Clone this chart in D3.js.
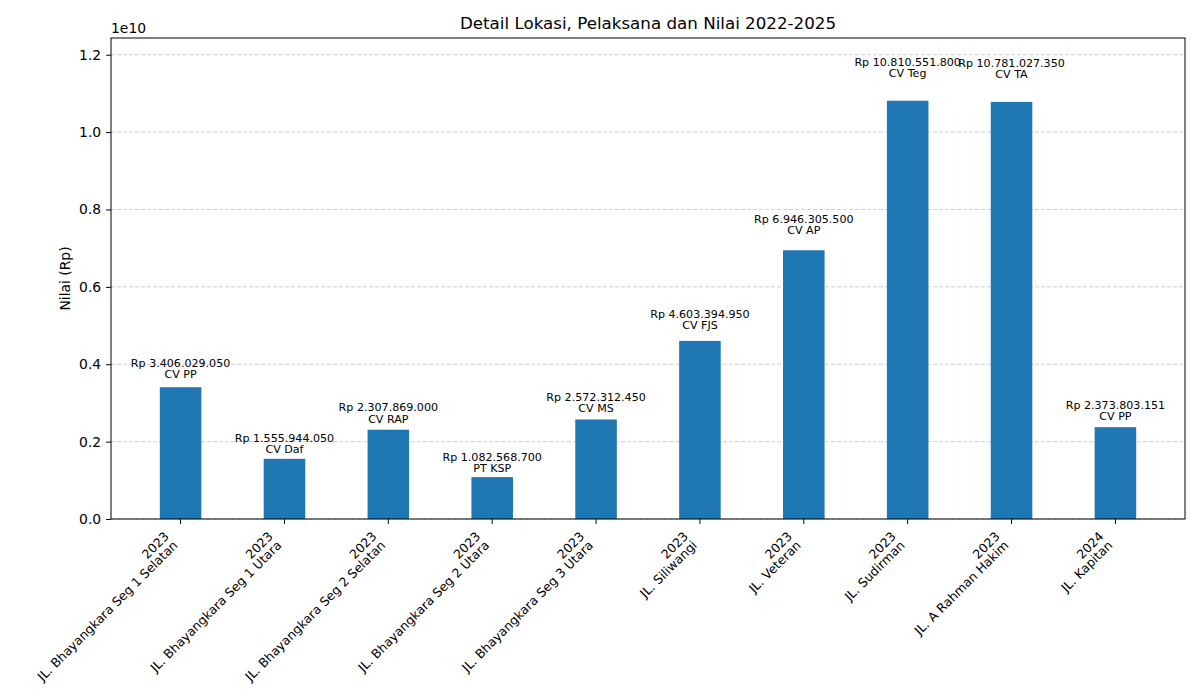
<!DOCTYPE html>
<html>
<head>
<meta charset="utf-8">
<script src="https://cdn.jsdelivr.net/npm/d3@7"></script>
<style>
  html, body { margin: 0; padding: 0; background: #fff; }
  svg { font-family: "DejaVu Sans", sans-serif; display: block; }
  .grid line { stroke: #b0b0b0; stroke-opacity: 0.6; stroke-dasharray: 4 2; }
</style>
</head>
<body>
<div id="chart"></div>
<script>
// Project values per location (Rp).
const years = ["2023", "2023", "2023", "2023", "2023", "2023", "2023", "2023", "2023", "2024"];
const locations = [
  "JL. Bhayangkara Seg 1 Selatan", "JL. Bhayangkara Seg 1 Utara", "JL. Bhayangkara Seg 2 Selatan",
  "JL. Bhayangkara Seg 2 Utara", "JL. Bhayangkara Seg 3 Utara", "JL. Siliwangi", "JL. Veteran",
  "JL. Sudirman", "JL. A Rahman Hakim", "JL. Kapitan"
];
const contractors = ["CV PP", "CV Daf", "CV RAP", "PT KSP", "CV MS", "CV FJS", "CV AP", "CV Teg", "CV TA", "CV PP"];
const values = [3406029050, 1555944050, 2307869000, 1082568700, 2572312450, 4603394950, 6946305500, 10810551800, 10781027350, 2373803151];
const yTicks = [0, 0.2e10, 0.4e10, 0.6e10, 0.8e10, 1.0e10, 1.2e10];

const W = 1200, H = 700;
const pL = 111, pR = 1185, pT = 38, pB = 519;
const barW = 0.4;
const n = values.length;

const rp = (v) => "Rp " + String(v).replace(/\B(?=(\d{3})+(?!\d))/g, ".");

// matplotlib-like 5% margins around the bar extent
const x0 = -barW / 2, x1 = n - 1 + barW / 2, m = (x1 - x0) * 0.05;
const x = d3.scaleLinear([x0 - m, x1 + m], [pL, pR]);
const y = d3.scaleLinear([0, d3.max(values) * 1.15], [pB, pT]);

const svg = d3.select("#chart").append("svg")
  .attr("width", W).attr("height", H).attr("viewBox", `0 0 ${W} ${H}`);

// Grid (behind bars)
svg.append("g").attr("class", "grid")
  .selectAll("line").data(yTicks).join("line")
  .attr("x1", pL).attr("x2", pR)
  .attr("y1", (d) => y(d)).attr("y2", (d) => y(d));

// Bars
svg.append("g").selectAll("rect").data(values).join("rect")
  .attr("x", (_, i) => x(i - barW / 2))
  .attr("width", x(barW) - x(0))
  .attr("y", (d) => y(d))
  .attr("height", (d) => pB - y(d))
  .attr("fill", "#1f77b4");

// Value labels: bottom of text at value * 1.05
const ann = svg.append("g").attr("font-size", 11.1).attr("text-anchor", "middle").attr("fill", "#000");
values.forEach((v, i) => {
  const t = ann.append("text").attr("x", x(i)).attr("y", y(v * 1.05));
  t.append("tspan").attr("x", x(i)).attr("dy", "-1.24em").text(rp(v));
  t.append("tspan").attr("x", x(i)).attr("dy", "1.0em").text(contractors[i]);
});

// Y axis
svg.append("g").attr("transform", `translate(${pL},0)`)
  .call(d3.axisLeft(y).tickValues(yTicks).tickSize(4.9).tickPadding(4.9)
    .tickFormat((d) => (d / 1e10).toFixed(1)))
  .call((g) => g.select(".domain").remove())
  .call((g) => g.selectAll("text").attr("font-size", 13.9).attr("font-family", "DejaVu Sans").attr("fill", "#000"))
  .call((g) => g.selectAll("line").attr("stroke", "#000"));

// X ticks
svg.append("g").selectAll("line").data(d3.range(n)).join("line")
  .attr("x1", (i) => x(i)).attr("x2", (i) => x(i))
  .attr("y1", pB).attr("y2", pB + 4.9).attr("stroke", "#000");

// Rotated two-line tick labels, right/top aligned like matplotlib
const xl = svg.append("g").attr("font-size", 12.5).attr("fill", "#000");
const a = -Math.PI / 4;
d3.range(n).forEach((i) => {
  const t = xl.append("text").attr("text-anchor", "end");
  t.append("tspan").attr("x", 0).attr("dy", 0).text(years[i]);
  t.append("tspan").attr("x", 0).attr("dy", "1.0em").text(locations[i]);
  const b = t.node().getBBox();
  const corners = [[b.x, b.y], [b.x + b.width, b.y], [b.x, b.y + b.height], [b.x + b.width, b.y + b.height]]
    .map(([px, py]) => [px * Math.cos(a) - py * Math.sin(a), px * Math.sin(a) + py * Math.cos(a)]);
  const maxX = d3.max(corners, (c) => c[0]);
  const minY = d3.min(corners, (c) => c[1]);
  const tx = x(i) - maxX, ty = pB + 9.7 - minY;
  t.attr("transform", `translate(${tx},${ty}) rotate(-45)`);
});

// Frame
svg.append("rect").attr("x", pL).attr("y", pT)
  .attr("width", pR - pL).attr("height", pB - pT)
  .attr("fill", "none").attr("stroke", "#000").attr("stroke-width", 1);

// Offset text, title, y label
svg.append("text").attr("x", pL).attr("y", 33).attr("font-size", 13.9).text("1e10");
svg.append("text").attr("x", (pL + pR) / 2).attr("y", 29).attr("text-anchor", "middle")
  .attr("font-size", 16.7).text("Detail Lokasi, Pelaksana dan Nilai 2022-2025");
svg.append("text").attr("transform", `translate(70,${(pT + pB) / 2}) rotate(-90)`)
  .attr("text-anchor", "middle").attr("font-size", 13.9).text("Nilai (Rp)");
</script>
</body>
</html>
